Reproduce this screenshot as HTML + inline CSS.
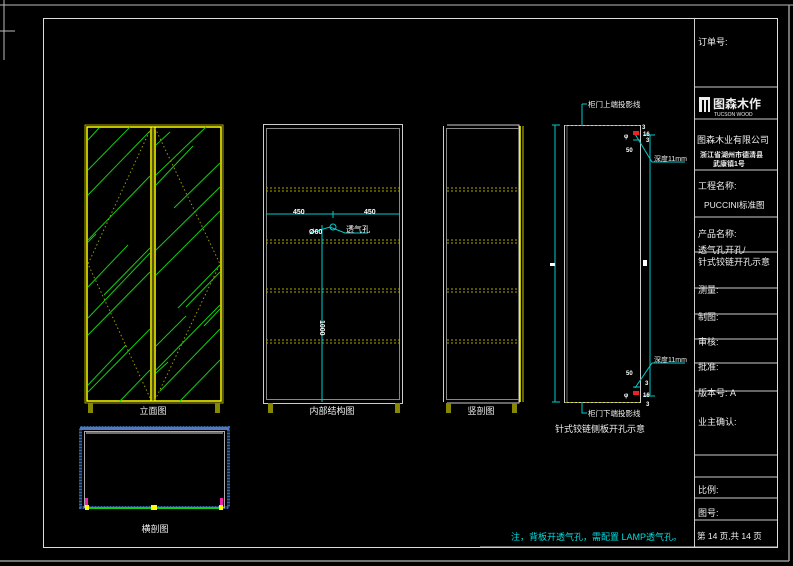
<!DOCTYPE html>
<html><head><meta charset="utf-8"><style>
html,body{margin:0;padding:0;background:#000;}
svg{display:block;}
text{font-family:"Liberation Sans","Noto Sans CJK SC",sans-serif;}
</style></head><body>
<svg width="793" height="566" viewBox="0 0 793 566" xmlns="http://www.w3.org/2000/svg">
<rect width="793" height="566" fill="#000"/>
<!-- outer lines -->
<line x1="0" y1="5" x2="793" y2="5" stroke="#bbb" stroke-width="1"/>
<line x1="4" y1="0" x2="4" y2="60" stroke="#bbb"/>
<line x1="0" y1="31" x2="15" y2="31" stroke="#bbb"/>
<line x1="0" y1="561" x2="789" y2="561" stroke="#999" stroke-width="1.5"/>
<line x1="789" y1="5" x2="789" y2="561" stroke="#999" stroke-width="1.5"/>
<!-- inner frame -->
<rect x="43.5" y="18.5" width="734" height="529" fill="none" stroke="#ddd" stroke-width="1"/>
<!-- title block -->
<g stroke="#ccc" fill="none">
<line x1="694.5" y1="18" x2="694.5" y2="547"/>
<line x1="694" y1="87" x2="777" y2="87"/>
<line x1="694" y1="119" x2="777" y2="119"/>
<line x1="694" y1="170" x2="777" y2="170"/>
<line x1="694" y1="217" x2="777" y2="217"/>
<line x1="694" y1="252" x2="777" y2="252"/>
<line x1="694" y1="288" x2="777" y2="288"/>
<line x1="694" y1="314" x2="777" y2="314"/>
<line x1="694" y1="339" x2="777" y2="339"/>
<line x1="694" y1="363" x2="777" y2="363"/>
<line x1="694" y1="391" x2="777" y2="391"/>
<line x1="694" y1="455" x2="777" y2="455"/>
<line x1="694" y1="477" x2="777" y2="477"/>
<line x1="694" y1="498" x2="777" y2="498"/>
<line x1="694" y1="520" x2="777" y2="520"/>
<line x1="480" y1="547" x2="777" y2="547"/>
</g>
<g fill="#eee" font-size="9">
<text x="698" y="45">订单号:</text>
<rect x="699" y="97" width="11" height="15" fill="#eee"/>
<rect x="702" y="100" width="2" height="12" fill="#000"/><rect x="706" y="100" width="2" height="12" fill="#000"/>
<text x="713" y="108" font-size="12" font-weight="bold">图森木作</text>
<text x="714" y="116" font-size="5">TUCSON WOOD</text>
<text x="697" y="143" font-size="9">图森木业有限公司</text>
<text x="700" y="157" font-size="7" font-weight="bold">浙江省湖州市德清县</text>
<text x="713" y="166" font-size="7" font-weight="bold">武康镇1号</text>
<text x="698" y="189">工程名称:</text>
<text x="704" y="208" font-size="8.5">PUCCINI标准图</text>
<text x="698" y="237">产品名称:</text>
<text x="698" y="253">透气孔开孔/</text>
<text x="698" y="265">针式铰链开孔示意</text>
<text x="698" y="293">测量:</text>
<text x="698" y="320">制图:</text>
<text x="698" y="345">审核:</text>
<text x="698" y="370">批准:</text>
<text x="698" y="396">版本号: A</text>
<text x="698" y="425">业主确认:</text>
<text x="698" y="493">比例:</text>
<text x="698" y="516">图号:</text>
<text x="697" y="539" font-size="8.5">第 14 页,共 14 页</text>
</g>
<text x="511" y="540" fill="#0dd" font-size="9">注，背板开透气孔，需配置 LAMP透气孔。</text>

<!-- Elevation -->
<g>
<rect x="85" y="125" width="138" height="278" fill="none" stroke="#aa0" stroke-width="1"/>
<rect x="87" y="127" width="134" height="274" fill="none" stroke="#ff0" stroke-width="1.5"/>
<line x1="151" y1="127" x2="151" y2="401" stroke="#ff0" stroke-width="1.5"/>
<line x1="155" y1="127" x2="155" y2="401" stroke="#ff0" stroke-width="1.5"/>
<line x1="153" y1="127" x2="153" y2="401" stroke="#aa0" stroke-width="1"/>
<g stroke="#1c1" stroke-width="1">
<line x1="88" y1="140" x2="99" y2="128"/><line x1="88" y1="170" x2="130" y2="127"/>
<line x1="88" y1="195" x2="150" y2="131"/><line x1="88" y1="240" x2="150" y2="176"/>
<line x1="88" y1="242" x2="96" y2="234"/><line x1="88" y1="287" x2="128" y2="245"/>
<line x1="104" y1="295" x2="150" y2="248"/><line x1="88" y1="318" x2="150" y2="253"/>
<line x1="88" y1="335" x2="150" y2="272"/><line x1="88" y1="385" x2="126" y2="345"/>
<line x1="88" y1="392" x2="150" y2="329"/><line x1="120" y1="401" x2="150" y2="370"/>
<line x1="156" y1="145" x2="170" y2="132"/><line x1="156" y1="175" x2="206" y2="127"/>
<line x1="156" y1="185" x2="193" y2="146"/><line x1="174" y1="208" x2="220" y2="163"/>
<line x1="156" y1="250" x2="220" y2="187"/><line x1="156" y1="275" x2="220" y2="211"/>
<line x1="186" y1="307" x2="220" y2="272"/><line x1="178" y1="308" x2="220" y2="265"/>
<line x1="204" y1="326" x2="220" y2="309"/><line x1="156" y1="346" x2="186" y2="316"/>
<line x1="156" y1="370" x2="220" y2="305"/><line x1="160" y1="391" x2="220" y2="329"/>
<line x1="180" y1="401" x2="220" y2="360"/><line x1="156" y1="373" x2="168" y2="362"/>
</g>
<g stroke="#990" stroke-width="1" stroke-dasharray="1.5,2.5" fill="none">
<polyline points="151,128 88,264 151,400"/>
<polyline points="155,128 220,264 155,400"/>
</g>
<rect x="88" y="403" width="5" height="10" fill="#880"/><rect x="215" y="403" width="5" height="10" fill="#880"/>
<text x="153" y="414" fill="#eee" font-size="9" text-anchor="middle">立面图</text>
</g>

<!-- Internal structure -->
<g>
<rect x="263.5" y="124.5" width="139" height="279" fill="none" stroke="#ccc" stroke-width="1"/>
<rect x="266.5" y="128.5" width="133" height="271" fill="none" stroke="#888" stroke-width="1"/>
<g stroke="#aa0" stroke-dasharray="2,2" stroke-width="1">
<line x1="266" y1="188" x2="400" y2="188"/><line x1="266" y1="191" x2="400" y2="191"/>
<line x1="266" y1="240" x2="400" y2="240"/><line x1="266" y1="243" x2="400" y2="243"/>
<line x1="266" y1="289" x2="400" y2="289"/><line x1="266" y1="292" x2="400" y2="292"/>
<line x1="266" y1="340" x2="400" y2="340"/><line x1="266" y1="343" x2="400" y2="343"/>
</g>
<g stroke="#0cc" stroke-width="1" fill="none">
<line x1="266" y1="214" x2="400" y2="214"/>
<line x1="333" y1="211" x2="333" y2="218"/>
<line x1="322" y1="225" x2="322" y2="402"/>
<circle cx="333" cy="227" r="3"/>
<polyline points="310,233 330,227 345,233 368,233"/>
</g>
<text x="293" y="214" fill="#fff" font-size="7" font-weight="bold">450</text>
<text x="364" y="214" fill="#fff" font-size="7" font-weight="bold">450</text>
<text x="309" y="234" fill="#fff" font-size="7" font-weight="bold">Ø60</text>
<text x="346" y="232" fill="#fff" font-size="8">透气孔</text>
<text x="320" y="320" fill="#fff" font-size="7" font-weight="bold" transform="rotate(90 320 320)">1000</text>
<rect x="268" y="403" width="5" height="10" fill="#880"/><rect x="395" y="403" width="5" height="10" fill="#880"/>
<text x="332" y="414" fill="#eee" font-size="9" text-anchor="middle">内部结构图</text>
</g>

<!-- Side section -->
<g>
<polyline points="447,125 519,125 519,403 447,403" fill="none" stroke="#ccc"/>
<line x1="443.5" y1="126" x2="443.5" y2="402" stroke="#ccc"/>
<line x1="446.5" y1="128" x2="446.5" y2="400" stroke="#888"/>
<line x1="447" y1="128.5" x2="519" y2="128.5" stroke="#888"/>
<line x1="447" y1="399.5" x2="519" y2="399.5" stroke="#888"/>
<line x1="520" y1="126" x2="520" y2="402" stroke="#ff0" stroke-width="1.5"/>
<line x1="523" y1="126" x2="523" y2="402" stroke="#cc0" stroke-width="1"/>
<g stroke="#aa0" stroke-dasharray="2,2">
<line x1="447" y1="188" x2="518" y2="188"/><line x1="447" y1="191" x2="518" y2="191"/>
<line x1="447" y1="240" x2="518" y2="240"/><line x1="447" y1="243" x2="518" y2="243"/>
<line x1="447" y1="289" x2="518" y2="289"/><line x1="447" y1="292" x2="518" y2="292"/>
<line x1="447" y1="340" x2="518" y2="340"/><line x1="447" y1="343" x2="518" y2="343"/>
</g>
<rect x="446" y="403" width="5" height="10" fill="#880"/><rect x="512" y="403" width="5" height="10" fill="#880"/>
<text x="481" y="414" fill="#eee" font-size="9" text-anchor="middle">竖剖图</text>
</g>

<!-- Hinge side panel -->
<g>
<rect x="564.5" y="125.5" width="76" height="277" fill="none" stroke="#ccc"/>
<line x1="567" y1="126" x2="567" y2="402" stroke="#666"/>
<line x1="565" y1="125.5" x2="640" y2="125.5" stroke="#aa0" stroke-dasharray="2,2"/>
<line x1="565" y1="402.5" x2="640" y2="402.5" stroke="#aa0" stroke-dasharray="2,2"/>
<g stroke="#0cc" stroke-width="1" fill="none">
<line x1="555" y1="125" x2="555" y2="402"/>
<line x1="552" y1="125" x2="560" y2="125"/><line x1="552" y1="402" x2="560" y2="402"/>
<line x1="650" y1="135" x2="650" y2="395"/>
<polyline points="582,104 582,125"/><line x1="582" y1="104" x2="587" y2="104"/>
<polyline points="582,402 582,413 587,413"/>
<polyline points="635,134 652,162 685,162"/>
<polyline points="635,388 652,363 685,363"/>
<line x1="633" y1="140" x2="640" y2="140"/><line x1="633" y1="387" x2="640" y2="387"/>
<line x1="643" y1="135" x2="655" y2="135"/><line x1="643" y1="396" x2="655" y2="396"/>
</g>
<text x="588" y="107" fill="#eee" font-size="7.5">柜门上端投影线</text>
<text x="588" y="416" fill="#eee" font-size="7.5">柜门下端投影线</text>
<text x="654" y="161" fill="#eee" font-size="7">深度11mm</text>
<text x="654" y="362" fill="#eee" font-size="7">深度11mm</text>
<rect x="550" y="263" width="5" height="3" fill="#fff"/>
<rect x="643" y="260" width="4" height="6" fill="#fff"/>
<rect x="633" y="131" width="6" height="4" fill="#e22"/><rect x="633" y="391" width="6" height="4" fill="#e22"/>
<g fill="#fff" font-size="6" font-weight="bold">
<text x="624" y="138">φ</text><text x="626" y="152">50</text>
<text x="642" y="129">3</text><text x="643" y="136">16</text><text x="646" y="142">3</text>
<text x="626" y="375">50</text><text x="624" y="397">φ</text>
<text x="645" y="385">3</text><text x="643" y="397">16</text><text x="646" y="406">3</text>
</g>
<text x="555" y="432" fill="#eee" font-size="9">针式铰链侧板开孔示意</text>
</g>

<!-- Plan section -->
<g>
<rect x="80.5" y="427.5" width="148" height="80" fill="none" stroke="#36a" stroke-width="3" stroke-dasharray="2,1"/>
<rect x="80" y="427" width="149" height="3" fill="#57b"/>
<rect x="84.5" y="431.5" width="140" height="76" fill="none" stroke="#aaa"/>
<line x1="86" y1="433" x2="223" y2="433" stroke="#ddd"/>
<line x1="87" y1="508" x2="222" y2="508" stroke="#1c1" stroke-width="2"/>
<rect x="85" y="498" width="3" height="9" fill="#e2a"/><rect x="220" y="498" width="3" height="9" fill="#e2a"/>
<rect x="85" y="505" width="4" height="5" fill="#ff0"/><rect x="219" y="505" width="4" height="5" fill="#ff0"/>
<rect x="151" y="505" width="6" height="5" fill="#ff0"/>
<text x="155" y="532" fill="#eee" font-size="9" text-anchor="middle">横剖图</text>
</g>
</svg>
</body></html>
